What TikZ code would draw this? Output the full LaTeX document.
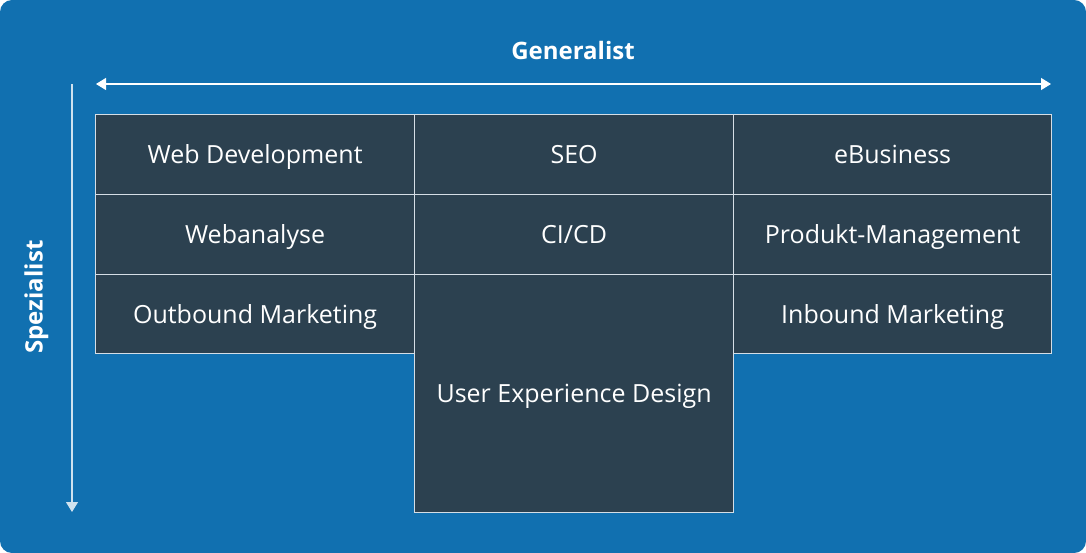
\documentclass[tikz,border=0pt]{standalone}
\usepackage{fontspec}
\setmainfont{Open Sans}
\usetikzlibrary{arrows.meta}

\definecolor{bgblue}{HTML}{1170B0}
\definecolor{celldark}{HTML}{2C4150}
\definecolor{cellline}{HTML}{D5DEE6}

\begin{document}
\begin{tikzpicture}[x=1pt, y=-1pt,
  cell/.style={draw=cellline, line width=1.2pt, fill=celldark, text=white, anchor=north west,
    minimum width=319pt, minimum height=80pt, inner sep=0pt, text height=17.8pt, text depth=0pt,
    font=\fontsize{25}{29}\selectfont},
  axislabel/.style={text=white, inner sep=0pt, text height=17.1pt, text depth=0pt,
    font=\fontsize{24}{28}\selectfont\bfseries},
  axis/.style={line width=1.2pt, >={Triangle[length=10pt, width=12pt]}}]
  \useasboundingbox (0, 0) rectangle (1086, 553);

  \fill [bgblue, rounded corners=12pt] (0, 0) rectangle (1086, 553);

  \node [cell] (webdev) at (95, 114) {Web Development};
  \node [cell] (seo) at (414, 114) {SEO};
  \node [cell, minimum width=318pt] (ebusiness) at (733, 114) {eBusiness};

  \node [cell] (webanalyse) at (95, 194) {Webanalyse};
  \node [cell] (cicd) at (414, 194) {CI/CD};
  \node [cell, minimum width=318pt] (produkt) at (733, 194) {Produkt-Management};

  \node [cell, minimum height=79pt] (outbound) at (95, 274) {Outbound Marketing};
  \node [cell, minimum height=238pt] (ux) at (414, 274) {User Experience Design};
  \node [cell, minimum width=318pt, minimum height=79pt] (inbound) at (733, 274) {Inbound Marketing};

  \coordinate (hleft) at (96, 84);
  \coordinate (hright) at (1051, 84);
  \draw [axis, <->, white] (hleft) -- (hright);
  \node [axislabel] (generalist) at (573, 50.5) {Generalist};

  \coordinate (vtop) at (72, 84);
  \coordinate (vbottom) at (72, 512);
  \draw [axis, ->, white!80!bgblue] (vtop) -- (vbottom);
  \node [axislabel, rotate=90] (spezialist) at (34, 297) {Spezialist};
\end{tikzpicture}
\end{document}
